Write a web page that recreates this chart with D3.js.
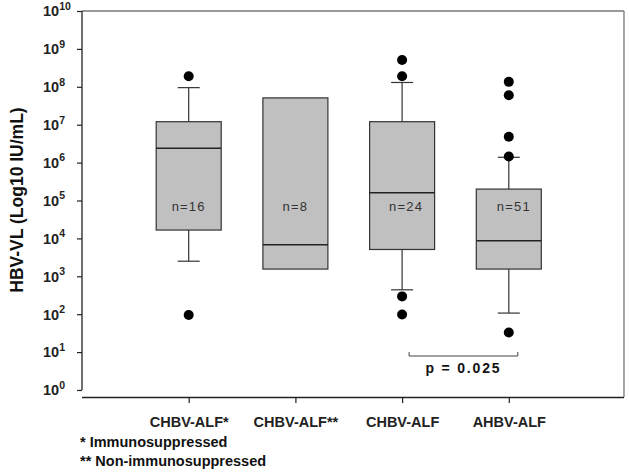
<!DOCTYPE html>
<html><head><meta charset="utf-8">
<script src="https://cdn.jsdelivr.net/npm/d3@7"></script>
<style>body{margin:0;background:#fff}svg{display:block}text{font-family:"Liberation Sans",Arial,sans-serif}</style>
</head><body>
<script>
const categories = ["CHBV-ALF*", "CHBV-ALF**", "CHBV-ALF", "AHBV-ALF"];
const nCounts = [16, 8, 24, 51];
const q1 = [1.66e4, 1.55e3, 5.1e3, 1.55e3];
const median = [2.4e6, 6.8e3, 1.6e5, 8.7e3];
const q3 = [1.2e7, 5.1e7, 1.2e7, 2.0e5];
const whiskerLo = [2.5e3, null, 440, 107];
const whiskerHi = [9.5e7, null, 1.3e8, 1.38e6];
const outliers = [[1.9e8, 95], [], [5.1e8, 1.9e8, 295, 98], [1.35e8, 6.0e7, 4.8e6, 1.45e6, 33]];
const yTicks = [1e0,1e1,1e2,1e3,1e4,1e5,1e6,1e7,1e8,1e9,1e10];
const footnotes = ["* Immunosuppressed", "** Non-immunosuppressed"];
const pText = "p = 0.025";
const pPair = ["CHBV-ALF", "AHBV-ALF"];

(function () {
const W = 629, H = 474;
const mL = 82, mR = 624, mT = 11, mB = 397;
const svg = d3.select("body").append("svg").attr("width", W).attr("height", H);

const y = d3.scaleLog().domain([Math.pow(10, -0.185), 1e10]).range([mB, mT]);
const x = d3.scalePoint().domain(categories).range([mL, 615.5]).padding(1);
const boxW = 65, capW = 22;

// frame
svg.append("line").attr("x1", mL).attr("x2", mR).attr("y1", mT).attr("y2", mT).attr("stroke", "#777").attr("stroke-width", 1.3);
svg.append("line").attr("x1", mR).attr("x2", mR).attr("y1", mT).attr("y2", mB).attr("stroke", "#777").attr("stroke-width", 1.3);

// y axis
const yAxis = svg.append("g").attr("transform", `translate(${mL},0)`)
  .call(d3.axisLeft(y).tickValues(yTicks).tickFormat("").tickSize(5).tickSizeOuter(0));
yAxis.select(".domain").remove();
yAxis.selectAll(".tick line").attr("stroke", "#222").attr("stroke-width", 1.2);
svg.append("line").attr("x1", mL).attr("x2", mL).attr("y1", y(1)).attr("y2", y(1e10)).attr("stroke", "#222").attr("stroke-width", 1.3);
yAxis.selectAll(".tick").each(function(d) {
  const t = d3.select(this).append("text").attr("x", 43 - mL).attr("y", 4.8)
    .attr("text-anchor", "start").attr("fill", "#222").attr("font-weight", "bold").attr("font-size", 14.5);
  t.append("tspan").text("10");
  t.append("tspan").attr("dy", -6.5).attr("font-size", 10.5).text(Math.round(Math.log10(d)));
});

// x axis
const xAxis = svg.append("g").attr("transform", `translate(0,${mB})`)
  .call(d3.axisBottom(x).tickSize(6).tickSizeOuter(0).tickFormat(""));
xAxis.select(".domain").attr("d", `M${mL},0.5H${mR}`).attr("stroke", "#222").attr("stroke-width", 1.3);
xAxis.selectAll(".tick line").attr("stroke", "#222").attr("stroke-width", 1.2);
xAxis.selectAll(".tick").append("text").attr("y", 29.5).attr("text-anchor", "middle")
  .attr("fill", "#222").attr("font-weight", "bold").attr("font-size", 14.5).text(d => d);

// y title
svg.append("text").attr("transform", `translate(23,200) rotate(-90)`).attr("text-anchor", "middle")
  .attr("font-weight", "bold").attr("font-size", 17.5).attr("fill", "#111").text("HBV-VL (Log10 IU/mL)");

// boxes
const nDx = [0, 0, 4, 5];
categories.forEach((c, i) => {
  const cx = x(c);
  const g = svg.append("g");
  if (whiskerHi[i] != null) {
    g.append("line").attr("x1", cx).attr("x2", cx).attr("y1", y(q3[i])).attr("y2", y(whiskerHi[i])).attr("stroke", "#333").attr("stroke-width", 1.2);
    g.append("line").attr("x1", cx - capW/2).attr("x2", cx + capW/2).attr("y1", y(whiskerHi[i])).attr("y2", y(whiskerHi[i])).attr("stroke", "#333").attr("stroke-width", 1.2);
  }
  if (whiskerLo[i] != null) {
    g.append("line").attr("x1", cx).attr("x2", cx).attr("y1", y(q1[i])).attr("y2", y(whiskerLo[i])).attr("stroke", "#333").attr("stroke-width", 1.2);
    g.append("line").attr("x1", cx - capW/2).attr("x2", cx + capW/2).attr("y1", y(whiskerLo[i])).attr("y2", y(whiskerLo[i])).attr("stroke", "#333").attr("stroke-width", 1.2);
  }
  g.append("rect").attr("x", cx - boxW/2).attr("width", boxW).attr("y", y(q3[i])).attr("height", y(q1[i]) - y(q3[i]))
    .attr("fill", "#c0c0c0").attr("stroke", "#333").attr("stroke-width", 1.2);
  g.append("line").attr("x1", cx - boxW/2).attr("x2", cx + boxW/2).attr("y1", y(median[i])).attr("y2", y(median[i])).attr("stroke", "#222").attr("stroke-width", 1.4);
  g.selectAll("circle").data(outliers[i]).join("circle").attr("cx", cx).attr("cy", d => y(d)).attr("r", 5).attr("fill", "#000");
  g.append("text").attr("x", cx + nDx[i]).attr("y", 210.5).attr("text-anchor", "middle").attr("font-size", 13)
    .attr("letter-spacing", 1.2).attr("fill", "#333").text("n=" + nCounts[i]);
});

// p bracket
const bx1 = x(pPair[0]) + 7, bx2 = x(pPair[1]) + 9, by = 356;
svg.append("path").attr("d", `M${bx1},${by-4}V${by}H${bx2}V${by-4}`).attr("fill", "none").attr("stroke", "#444").attr("stroke-width", 1);
svg.append("text").attr("x", (bx1 + bx2) / 2).attr("y", 373).attr("text-anchor", "middle").attr("font-weight", "bold")
  .attr("font-size", 14).attr("letter-spacing", 1.8).attr("fill", "#111").text(pText);

// footnotes
footnotes.forEach((f, i) => {
  svg.append("text").attr("x", 80).attr("y", 447 + i * 19).attr("font-weight", "bold").attr("font-size", 14.5).attr("fill", "#111").text(f);
});
})();
</script>
</body></html>
